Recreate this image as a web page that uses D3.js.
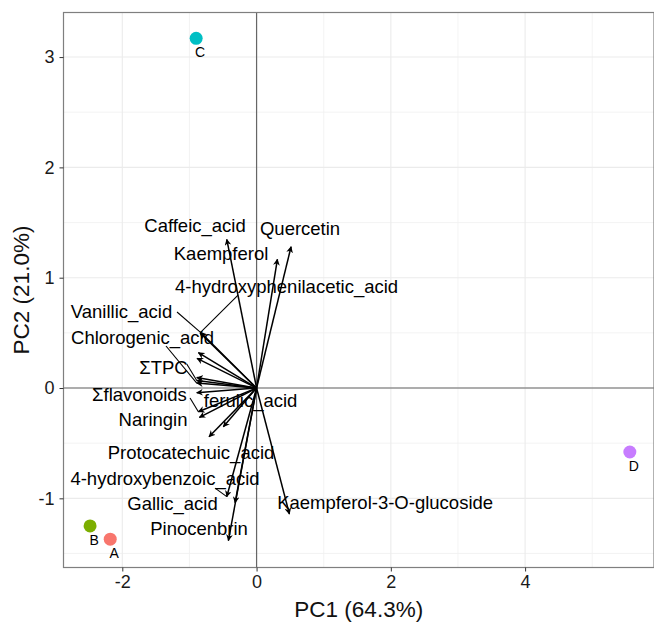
<!DOCTYPE html>
<html>
<head>
<meta charset="utf-8">
<script src="https://d3js.org/d3.v7.min.js"></script>
<style>
  body { margin: 0; background: #fff; }
  text { font-family: "Liberation Sans", Arial, sans-serif; }
</style>
</head>
<body>
<svg width="654" height="623"></svg>
<script>

// samples (scores)
var sampleNames = ["A", "B", "C", "D"];
var samplePC1 = [-2.18, -2.48, -0.90, 5.56];
var samplePC2 = [-1.37, -1.25, 3.17, -0.58];
var sampleColors = ["#F8766D", "#7CAE00", "#00BFC4", "#C77CFF"];

// variables (loadings, arrow tips)
var varNames = ["Caffeic_acid", "Kaempferol", "Quercetin", "4-hydroxyphenilacetic_acid",
  "Vanillic_acid", "", "", "", "\u03A3TPC", "Chlorogenic_acid", "", "\u03A3flavonoids",
  "Naringin", "ferulic_acid", "Protocatechuic_acid", "4-hydroxybenzoic_acid",
  "Gallic_acid", "Pinocenbrin", "Kaempferol-3-O-glucoside"];
var loadPC1 = [-0.444, 0.310, 0.514, -0.842, -0.835, -0.867, -0.887, -0.891, -0.891,
  -0.891, -0.891, -0.867, -0.852, -0.495, -0.708, -0.444, -0.320, -0.420, 0.489];
var loadPC2 = [1.348, 1.167, 1.281, 0.499, 0.505, 0.320, 0.269, 0.095, 0.068,
  0.045, -0.043, -0.215, -0.266, -0.351, -0.442, -0.985, -1.040, -1.383, -1.142];

// repelled label centres
var labelPC1 = [-0.917, -0.529, 0.648, 0.447, -2.012, null, null, null, -1.386,
  -1.699, null, -1.744, -1.542, -0.089, -0.976, -1.364, -1.252, -0.857, 1.915];
var labelPC2 = [1.469, 1.215, 1.442, 0.916, 0.689, null, null, null, 0.190,
  0.462, null, -0.063, -0.290, -0.109, -0.589, -0.816, -1.043, -1.278, -1.034];

// connector segment ends (null = label sits next to its arrow)
var segPC1 = [null, null, null, -0.276, -1.185, null, null, null, -1.040,
  -1.349, null, -0.991, null, null, null, -0.618, null, null, null];
var segPC2 = [null, null, null, 0.843, 0.689, null, null, null, 0.218,
  0.381, null, -0.091, null, null, null, -0.907, null, null, null];

var xTicks = [-2, 0, 2, 4];
var yTicks = [-1, 0, 1, 2, 3];
var xMinor = [-1, 1, 3, 5];
var yMinor = [-1.5, -0.5, 0.5, 1.5, 2.5];

var svg = d3.select("svg");
var pLeft = 63.5, pRight = 654, pTop = 12.5, pBottom = 567.5;

var x = d3.scaleLinear().domain([-2.876, 5.92]).range([pLeft, pRight]);
var y = d3.scaleLinear().domain([-1.627, 3.404]).range([pBottom, pTop]);

// panel
svg.append("rect")
  .attr("x", pLeft).attr("y", pTop)
  .attr("width", pRight - pLeft).attr("height", pBottom - pTop)
  .attr("fill", "#fff");

var grid = svg.append("g");
grid.selectAll(".vminor").data(xMinor).enter().append("line")
  .attr("x1", d => x(d)).attr("x2", d => x(d))
  .attr("y1", pTop).attr("y2", pBottom)
  .attr("stroke", "#f0f0f0").attr("stroke-width", 0.8);
grid.selectAll(".hminor").data(yMinor).enter().append("line")
  .attr("y1", d => y(d)).attr("y2", d => y(d))
  .attr("x1", pLeft).attr("x2", pRight)
  .attr("stroke", "#f0f0f0").attr("stroke-width", 0.8);
grid.selectAll(".vmajor").data(xTicks).enter().append("line")
  .attr("x1", d => x(d)).attr("x2", d => x(d))
  .attr("y1", pTop).attr("y2", pBottom)
  .attr("stroke", "#ebebeb").attr("stroke-width", 1.1);
grid.selectAll(".hmajor").data(yTicks).enter().append("line")
  .attr("y1", d => y(d)).attr("y2", d => y(d))
  .attr("x1", pLeft).attr("x2", pRight)
  .attr("stroke", "#ebebeb").attr("stroke-width", 1.1);

// zero lines
svg.append("line")
  .attr("x1", x(0)).attr("x2", x(0)).attr("y1", pTop).attr("y2", pBottom)
  .attr("stroke", "#666").attr("stroke-width", 1.2);
svg.append("line")
  .attr("y1", y(0)).attr("y2", y(0)).attr("x1", pLeft).attr("x2", pRight)
  .attr("stroke", "#666").attr("stroke-width", 1.2);

// arrows
svg.append("defs").append("marker")
  .attr("id", "head")
  .attr("viewBox", "0 0 10 10")
  .attr("refX", 9).attr("refY", 5)
  .attr("markerWidth", 4.5).attr("markerHeight", 4.5)
  .attr("markerUnits", "strokeWidth")
  .attr("orient", "auto")
  .append("path")
  .attr("d", "M0,0 L10,5 L0,10 L3,5 Z")
  .attr("fill", "#000");

var idx = d3.range(varNames.length);

svg.append("g").selectAll("line").data(idx).enter().append("line")
  .attr("x1", x(0)).attr("y1", y(0))
  .attr("x2", i => x(loadPC1[i])).attr("y2", i => y(loadPC2[i]))
  .attr("stroke", "#000").attr("stroke-width", 1.5)
  .attr("marker-end", "url(#head)");

// connector segments
svg.append("g").selectAll("line").data(idx.filter(i => segPC1[i] !== null)).enter().append("line")
  .attr("x1", i => x(loadPC1[i])).attr("y1", i => y(loadPC2[i]))
  .attr("x2", i => x(segPC1[i])).attr("y2", i => y(segPC2[i]))
  .attr("stroke", "#000").attr("stroke-width", 1.1);

// variable labels
svg.append("g").selectAll("text").data(idx.filter(i => labelPC1[i] !== null)).enter().append("text")
  .attr("x", i => x(labelPC1[i])).attr("y", i => y(labelPC2[i]))
  .attr("dy", "0.35em")
  .attr("text-anchor", "middle")
  .style("font-size", "18.5px")
  .attr("fill", "#000")
  .text(i => varNames[i]);

// sample points
svg.append("g").selectAll("circle").data(sampleNames).enter().append("circle")
  .attr("cx", (d, i) => x(samplePC1[i])).attr("cy", (d, i) => y(samplePC2[i]))
  .attr("r", 6.5)
  .attr("fill", (d, i) => sampleColors[i]);

svg.append("g").selectAll("text").data(sampleNames).enter().append("text")
  .attr("x", (d, i) => x(samplePC1[i]) + 4).attr("y", (d, i) => y(samplePC2[i]) + 14)
  .attr("dy", "0.35em")
  .attr("text-anchor", "middle")
  .style("font-size", "14px")
  .attr("fill", "#000")
  .text(d => d);

// border
svg.append("rect")
  .attr("x", pLeft).attr("y", pTop)
  .attr("width", pRight - pLeft).attr("height", pBottom - pTop)
  .attr("fill", "none").attr("stroke", "#7f7f7f").attr("stroke-width", 1.2);

// axes
var xAxis = svg.append("g")
  .attr("transform", "translate(0," + pBottom + ")")
  .call(d3.axisBottom(x).tickValues(xTicks).tickSize(4).tickPadding(4).tickFormat(d3.format("d")));
var yAxis = svg.append("g")
  .attr("transform", "translate(" + pLeft + ",0)")
  .call(d3.axisLeft(y).tickValues(yTicks).tickSize(4).tickPadding(5).tickFormat(d3.format("d")));
[xAxis, yAxis].forEach(function (g) {
  g.select(".domain").remove();
  g.selectAll(".tick line").attr("stroke", "#333");
  g.selectAll(".tick text")
    .style("font-family", "'Liberation Sans', Arial, sans-serif")
    .style("font-size", "18px")
    .attr("fill", "#1a1a1a");
});
xAxis.selectAll(".tick text").text(d => d < 0 ? "-" + Math.abs(d) : d);
yAxis.selectAll(".tick text").text(d => d < 0 ? "-" + Math.abs(d) : d);

// axis titles
svg.append("text")
  .attr("x", (pLeft + pRight) / 2).attr("y", 617)
  .attr("text-anchor", "middle")
  .style("font-size", "22.5px")
  .attr("fill", "#111")
  .text("PC1 (64.3%)");

svg.append("text")
  .attr("transform", "translate(29," + ((pTop + pBottom) / 2) + ")rotate(-90)")
  .attr("text-anchor", "middle")
  .style("font-size", "22.5px")
  .attr("fill", "#111")
  .text("PC2 (21.0%)");

</script>
</body>
</html>
